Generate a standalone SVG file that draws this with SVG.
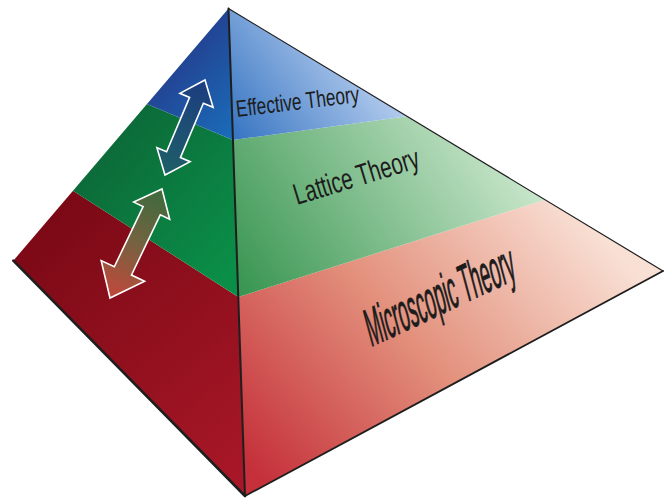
<svg xmlns="http://www.w3.org/2000/svg" width="669" height="499" viewBox="0 0 669 499">
<defs>
<linearGradient id="gLB" gradientUnits="userSpaceOnUse" x1="150" y1="60" x2="235" y2="135"><stop offset="0" stop-color="#243a8a"/><stop offset="1" stop-color="#1a6dba"/></linearGradient>
<linearGradient id="gLG" gradientUnits="userSpaceOnUse" x1="80" y1="140" x2="235" y2="270"><stop offset="0" stop-color="#0c6637"/><stop offset="1" stop-color="#0a8f48"/></linearGradient>
<linearGradient id="gLR" gradientUnits="userSpaceOnUse" x1="30" y1="220" x2="240" y2="480"><stop offset="0" stop-color="#7a0915"/><stop offset="1" stop-color="#a81727"/></linearGradient>
<linearGradient id="gRB" gradientUnits="userSpaceOnUse" x1="360" y1="50" x2="240" y2="140"><stop offset="0" stop-color="#b4ccee"/><stop offset="1" stop-color="#3a77c3"/></linearGradient>
<linearGradient id="gRG" gradientUnits="userSpaceOnUse" x1="500" y1="130" x2="250" y2="300"><stop offset="0" stop-color="#cae7cc"/><stop offset="1" stop-color="#3a9652"/></linearGradient>
<linearGradient id="gRR" gradientUnits="userSpaceOnUse" x1="580" y1="210" x2="270" y2="490"><stop offset="0" stop-color="#f9e0d5"/><stop offset="0.5" stop-color="#e3917d"/><stop offset="1" stop-color="#c5303a"/></linearGradient>
<linearGradient id="gA1" gradientUnits="userSpaceOnUse" x1="205" y1="80" x2="165" y2="175"><stop offset="0" stop-color="#1b3c80"/><stop offset="0.5" stop-color="#1d4f74"/><stop offset="1" stop-color="#1f5e66"/></linearGradient>
<linearGradient id="gA2" gradientUnits="userSpaceOnUse" x1="162" y1="189" x2="110" y2="298"><stop offset="0" stop-color="#3d6a3c"/><stop offset="0.45" stop-color="#6e6440"/><stop offset="1" stop-color="#c4473b"/></linearGradient>
<style>
.face{stroke:none}
.lbl{font-family:"Liberation Sans",Arial,sans-serif;fill:#1c1c1c}
.arrow{stroke:#ffffff;stroke-width:1.6;stroke-linejoin:miter}
.edge{fill:none;stroke:#1e1e1e;stroke-linecap:round}
</style>
</defs>

<g id="layer-microscopic">
<polygon class="face" fill="url(#gLR)" points="73,190.7 13.3,260.7 245,496 238.3,297"/>
<polygon class="face" fill="url(#gRR)" points="238.3,297 245,496 663,271 545,199.7"/>
<text class="lbl" font-size="53" textLength="463" lengthAdjust="spacingAndGlyphs" stroke="#1c1c1c" stroke-width="0.9" transform="matrix(0.3171,-0.1481,0.259,0.966,371,347)">Microscopic Theory</text>
</g>

<g id="layer-lattice">
<polygon class="face" fill="url(#gLG)" points="147,104 73,190.7 238.3,297 232.9,140"/>
<polygon class="face" fill="url(#gRG)" points="232.9,140 238.3,297 545,199.7 407,116.3"/>
<text class="lbl" font-size="30" textLength="130" lengthAdjust="spacingAndGlyphs" transform="translate(297,205) rotate(-17)">Lattice Theory</text>
</g>

<g id="layer-effective">
<polygon class="face" fill="url(#gLB)" points="228.5,8.5 147,104 232.9,140"/>
<polygon class="face" fill="url(#gRB)" points="228.5,8.5 232.9,140 407,116.3"/>
<text class="lbl" font-size="23.5" textLength="124" lengthAdjust="spacingAndGlyphs" transform="translate(237,117) rotate(-7)">Effective Theory</text>
</g>

<g id="edges">
<line class="edge" x1="228.5" y1="8.5" x2="663" y2="271" stroke-width="1.2"/>
<line class="edge" x1="663" y1="271" x2="245" y2="496" stroke-width="1.8"/>
<line class="edge" x1="13.3" y1="260.7" x2="245" y2="496" stroke-width="2.6" stroke="#2a2a2a"/>
<line class="edge" x1="228.5" y1="8.5" x2="245" y2="496" stroke-width="2"/>
</g>

<g id="connectors">
<polygon class="arrow" fill="url(#gA1)" points="205,80 213.1,107.3 203.4,103.2 180.4,157.6 190.1,161.7 165,175 156.9,147.7 166.6,151.8 189.6,97.4 179.9,93.3"/>
<polygon class="arrow" fill="url(#gA2)" points="162,189 169.7,219.3 160.3,214.8 131.5,275 144.6,281.2 110,298 101.2,260.6 114.3,266.8 143.1,206.6 133.7,202.1"/>
</g>
</svg>
